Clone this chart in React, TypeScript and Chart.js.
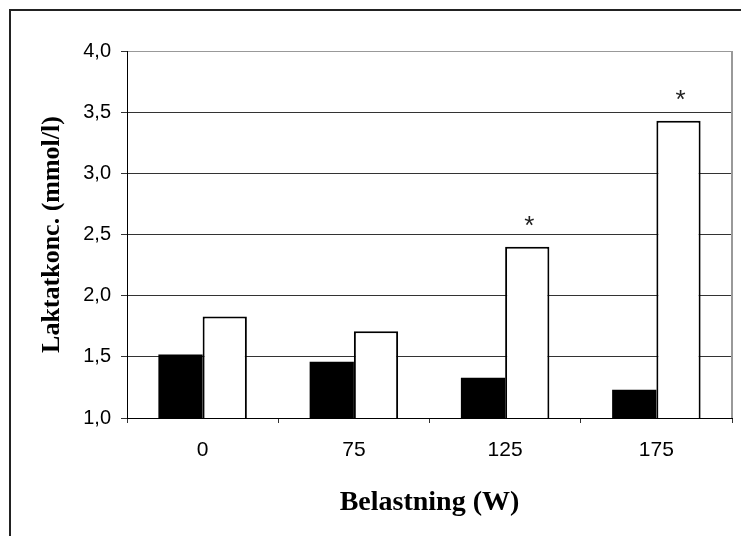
import React, { useEffect, useRef } from "react";
import { Chart, registerables } from "chart.js";

Chart.register(...registerables);

const categories = ["0", "75", "125", "175"];
const blackSeries = [1.52, 1.46, 1.33, 1.23];
const whiteSeries = [1.83, 1.71, 2.4, 3.43];
const significanceMarks = ["", "", "*", "*"];
const yMin = 1.0;
const yMax = 4.0;
const yStep = 0.5;
const xTitle = "Belastning (W)";
const yTitle = "Laktatkonc. (mmol/l)";

const sansFont = "'Liberation Sans', Arial, sans-serif";
const serifFont = "'Liberation Serif', 'Times New Roman', serif";

const decorPlugin = {
  id: "decor",
  beforeDraw(chart: any) {
    const { ctx } = chart;
    ctx.save();
    ctx.strokeStyle = "#222";
    ctx.lineWidth = 2;
    ctx.beginPath();
    ctx.moveTo(10, chart.height + 2);
    ctx.lineTo(10, 10);
    ctx.lineTo(chart.width + 2, 10);
    ctx.stroke();
    ctx.restore();
  },
  afterDatasetsDraw(chart: any) {
    const { ctx, chartArea } = chart;
    ctx.save();
    ctx.strokeStyle = "#999";
    ctx.lineWidth = 2;
    ctx.beginPath();
    ctx.moveTo(chartArea.right, chartArea.top);
    ctx.lineTo(chartArea.right, chartArea.bottom);
    ctx.stroke();
    const meta = chart.getDatasetMeta(1);
    ctx.fillStyle = "#222";
    ctx.font = `26px ${sansFont}`;
    ctx.textAlign = "center";
    ctx.textBaseline = "alphabetic";
    meta.data.forEach((bar: any, i: number) => {
      const mark = significanceMarks[i];
      if (mark) ctx.fillText(mark, bar.x + 2, bar.y - 13);
    });
    ctx.restore();
  },
};

export default function App() {
  const canvasRef = useRef<HTMLCanvasElement | null>(null);

  useEffect(() => {
    const canvas = canvasRef.current;
    if (!canvas) return;
    const chart = new Chart(canvas, {
      type: "bar",
      data: {
        labels: categories,
        datasets: [
          {
            data: blackSeries,
            backgroundColor: "#000",
            borderColor: "#000",
            borderWidth: 0,
            categoryPercentage: 0.585,
            barPercentage: 1.0,
          },
          {
            data: whiteSeries,
            backgroundColor: "#fff",
            borderColor: "#000",
            borderWidth: 2,
            categoryPercentage: 0.585,
            barPercentage: 1.0,
          },
        ],
      },
      options: {
        responsive: false,
        animation: false,
        devicePixelRatio: 1,
        layout: { padding: { top: 51, right: 9, left: 0, bottom: 0 } },
        plugins: {
          legend: { display: false },
          tooltip: { enabled: false },
          title: { display: false },
        },
        scales: {
          x: {
            grid: {
              display: true,
              drawOnChartArea: false,
              drawTicks: true,
              tickLength: 5,
              tickColor: "#333",
              offset: true,
            },
            border: { display: true, color: "#000", width: 1 },
            ticks: {
              color: "#000",
              font: { family: sansFont, size: 21 },
              padding: 15,
              maxRotation: 0,
            },
            title: {
              display: true,
              text: xTitle,
              color: "#000",
              font: { family: serifFont, size: 28, weight: "bold" },
              padding: { top: 0, bottom: 16 },
            },
            afterFit(scale: any) {
              scale.height = 118;
            },
          },
          y: {
            min: yMin,
            max: yMax,
            grid: {
              color: (ctx: any) =>
                ctx.tick && Math.abs(ctx.tick.value - yMax) < 1e-9 ? "#999" : "#333",
              lineWidth: 1,
              drawTicks: true,
              tickLength: 6,
              tickColor: "#333",
            },
            border: { display: true, color: "#000", width: 1 },
            ticks: {
              stepSize: yStep,
              color: "#000",
              font: { family: sansFont, size: 20 },
              padding: 10,
              callback: (v: any) => Number(v).toFixed(1).replace(".", ","),
            },
            title: {
              display: true,
              text: yTitle,
              color: "#000",
              font: { family: serifFont, size: 26, weight: "bold" },
              padding: { top: 37, bottom: 0 },
            },
            afterFit(scale: any) {
              scale.width = 127;
            },
          },
        },
      },
      plugins: [decorPlugin],
    });
    return () => chart.destroy();
  }, []);

  return (
    <div style={{ position: "absolute", left: 0, top: 0, width: 741, height: 536, background: "#fff" }}>
      <canvas ref={canvasRef} width={741} height={536} style={{ display: "block" }} />
    </div>
  );
}
